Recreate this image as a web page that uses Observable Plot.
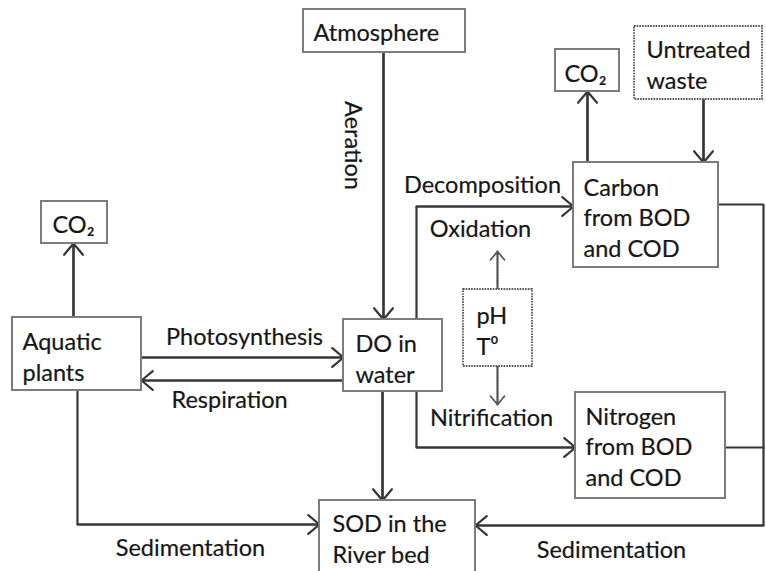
<!DOCTYPE html>
<html><head><meta charset="utf-8">
<script src="https://cdn.jsdelivr.net/npm/d3@7"></script>
<script src="https://cdn.jsdelivr.net/npm/@observablehq/plot@0.6"></script>
<style>body{margin:0;background:#fff}</style>
</head><body><div id="chart"></div>
<script>
// ---- content (names / labels) ----
const nodeNames = ["Atmosphere", "CO\u2082", "Aquatic\nplants", "DO in\nwater", "SOD in the\nRiver bed",
  "CO\u2082", "Untreated\nwaste", "Carbon\nfrom BOD\nand COD", "Nitrogen\nfrom BOD\nand COD", "pH\nT\u2070"];
const nodeDotted = [false, false, false, false, false, false, true, false, false, true];
const flowLabels = ["Aeration", "Photosynthesis", "Respiration", "Decomposition", "Oxidation",
  "Nitrification", "Sedimentation", "Sedimentation"];

// ---- layout (pixel coordinates of the diagram) ----
const boxX1 = [303, 41, 12, 343, 319, 555, 634, 573, 575, 463];
const boxX2 = [465, 107, 141, 442, 475, 619, 762, 718, 725, 532];
const boxY1 = [9, 201, 317, 319, 500, 49, 26, 162, 392, 289];
const boxY2 = [52, 243, 390, 391, 580, 91, 99, 267, 498, 366];
const textX = [313, 52, 22, 355, 332, 564, 646, 583, 585, 476];
const textY = [31, 223, 355, 357, 537, 72, 63, 216, 445, 329];

const labelX = [352, 244, 229, 482, 480, 491, 190, 611];
const labelY = [145, 337, 400, 185, 229, 418, 548, 550];
const labelRotate = [90, 0, 0, 0, 0, 0, 0, 0];

// connectors: polylines, arrowhead at the last point
const connectors = [
  {pts: [[383, 52], [383, 319]], arrow: true, dotted: false},
  {pts: [[73, 317], [73, 243]], arrow: true, dotted: false},
  {pts: [[141, 357], [343, 357]], arrow: true, dotted: false},
  {pts: [[343, 380], [141, 380]], arrow: true, dotted: false},
  {pts: [[77, 390], [77, 524], [319, 524]], arrow: true, dotted: false},
  {pts: [[382, 391], [382, 500]], arrow: true, dotted: false},
  {pts: [[416, 319], [416, 206], [573, 206]], arrow: true, dotted: false},
  {pts: [[416, 391], [416, 447], [575, 447]], arrow: true, dotted: false},
  {pts: [[587, 162], [587, 91]], arrow: true, dotted: false},
  {pts: [[703, 99], [703, 162]], arrow: true, dotted: false},
  {pts: [[718, 204], [763, 204], [763, 525], [475, 525]], arrow: true, dotted: false},
  {pts: [[725, 447], [763, 447]], arrow: false, dotted: false},
  {pts: [[497, 289], [497, 251]], arrow: true, dotted: true},
  {pts: [[497, 366], [497, 404]], arrow: true, dotted: true}
];

// ---- build tables ----
const nodes = nodeNames.map((name, i) => ({
  name, dotted: nodeDotted[i], x1: boxX1[i], x2: boxX2[i], y1: boxY1[i], y2: boxY2[i], tx: textX[i], ty: textY[i]
}));
const labels = flowLabels.map((t, i) => ({t, x: labelX[i], y: labelY[i], r: labelRotate[i]}));
const linePts = connectors.flatMap((c, i) => c.pts.map(([x, y]) => ({id: i, x, y, dotted: c.dotted})));
const heads = connectors.filter(c => c.arrow).map(c => {
  const n = c.pts.length;
  return {x1: c.pts[n - 2][0], y1: c.pts[n - 2][1], x2: c.pts[n - 1][0], y2: c.pts[n - 1][1], dotted: c.dotted};
});

const FONT = "Lato, 'Open Sans', sans-serif";
const FS = 23.5;
const LINE = "#363636", BOX = "#7c7c7c", DOT = "#555", INK = "#161616";
const DASH = "1.6,1.1";

const chart = Plot.plot({
  width: 766, height: 571, margin: 0,
  x: {domain: [0, 766], range: [0, 766], axis: null},
  y: {domain: [0, 571], range: [0, 571], axis: null},
  style: {background: "#fff", fontFamily: FONT},
  marks: [
    Plot.line(linePts.filter(d => !d.dotted), {x: "x", y: "y", z: "id", stroke: LINE, strokeWidth: 2.2, strokeLinejoin: "miter", strokeLinecap: "square"}),
    Plot.line(linePts.filter(d => d.dotted), {x: "x", y: "y", z: "id", stroke: DOT, strokeWidth: 1.8, strokeDasharray: DASH}),
    Plot.arrow(heads.filter(d => !d.dotted), {x1: "x1", y1: "y1", x2: "x2", y2: "y2", stroke: LINE, strokeWidth: 2.2, headLength: 10, headAngle: 80}),
    Plot.arrow(heads.filter(d => d.dotted), {x1: "x1", y1: "y1", x2: "x2", y2: "y2", stroke: DOT, strokeWidth: 1.8, headLength: 9, headAngle: 80, strokeDasharray: DASH}),
    Plot.rect(nodes.filter(d => !d.dotted), {x1: "x1", x2: "x2", y1: "y1", y2: "y2", fill: "#fff", stroke: BOX, strokeWidth: 2}),
    Plot.rect(nodes.filter(d => d.dotted), {x1: "x1", x2: "x2", y1: "y1", y2: "y2", fill: "#fff", stroke: DOT, strokeWidth: 1.8, strokeDasharray: DASH}),
    Plot.text(nodes, {x: "tx", y: "ty", text: "name", textAnchor: "start", lineAnchor: "middle", lineHeight: 1.3, fontSize: FS, fill: INK, stroke: INK, strokeWidth: 0.2}),
    Plot.text(labels, {x: "x", y: "y", text: "t", rotate: "r", textAnchor: "middle", lineAnchor: "middle", fontSize: FS, fill: INK, stroke: INK, strokeWidth: 0.2})
  ]
});
document.getElementById("chart").append(chart);
</script>
</body></html>
